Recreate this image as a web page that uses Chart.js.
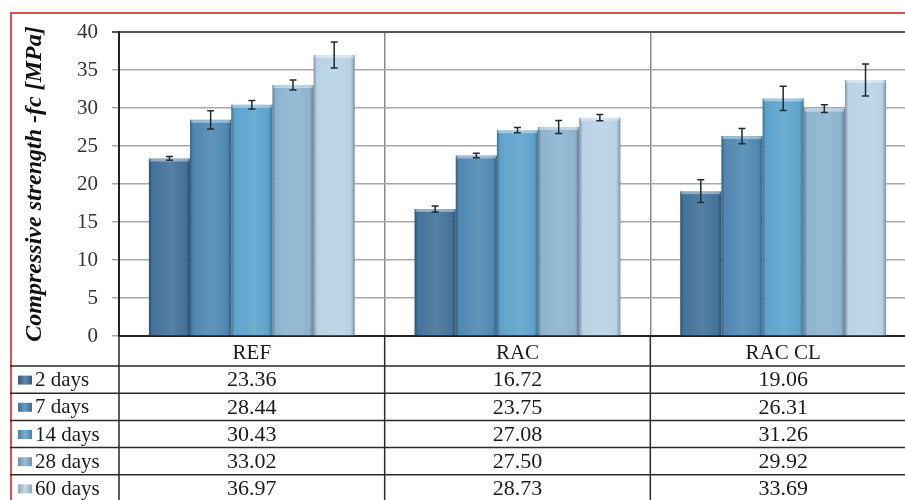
<!DOCTYPE html>
<html>
<head>
<meta charset="utf-8">
<script src="https://cdn.jsdelivr.net/npm/chart.js@4.4.0/dist/chart.umd.min.js"></script>
<style>
  html, body { margin: 0; padding: 0; background: #fff; overflow: hidden; }
  #cadre { position: absolute; left: 10px; top: 12px; width: 920px; height: 520px; border: 2px solid #d9534f; }
  #zone { position: absolute; left: 0; top: 0; width: 916px; height: 500px; }
</style>
</head>
<body>
<div id="cadre"></div>
<div id="zone"><canvas id="grafico" width="916" height="500"></canvas></div>
<script>
// categorias e series
var misturas = ['REF', 'RAC', 'RAC CL'];
var idades = ['2 days', '7 days', '14 days', '28 days', '60 days'];
var d2  = [23.36, 16.72, 19.06];
var d7  = [28.44, 23.75, 26.31];
var d14 = [30.43, 27.08, 31.26];
var d28 = [33.02, 27.50, 29.92];
var d60 = [36.97, 28.73, 33.69];
// barras de erro (estimadas da imagem)
var e2  = [0.25, 0.40, 1.50];
var e7  = [1.20, 0.30, 1.00];
var e14 = [0.55, 0.35, 1.60];
var e28 = [0.65, 0.85, 0.50];
var e60 = [1.70, 0.40, 2.10];
var ticksY = [0, 5, 10, 15, 20, 25, 30, 35, 40];

var series = [d2, d7, d14, d28, d60];
var erros = [e2, e7, e14, e28, e60];
var cores = ['#43729a', '#4f88b2', '#5ea3cc', '#8db3cf', '#b8d2e5'];
var fonte = '"Liberation Serif", "DejaVu Serif", serif';

function clarear(hex, f) {
    var n = parseInt(hex.slice(1), 16);
    var r = (n >> 16) & 255, g = (n >> 8) & 255, b = n & 255;
    if (f > 0) { r += (255 - r) * f; g += (255 - g) * f; b += (255 - b) * f; }
    else { r *= 1 + f; g *= 1 + f; b *= 1 + f; }
    return 'rgb(' + Math.round(r) + ',' + Math.round(g) + ',' + Math.round(b) + ')';
}

function gradienteBarra(context, base) {
    var chart = context.chart;
    var xs = chart.scales.x;
    if (!xs || context.dataIndex === undefined) return base;
    var largCat = xs.getPixelForValue(1) - xs.getPixelForValue(0);
    var slot = largCat * 0.775 / series.length;
    var centro = xs.getPixelForValue(context.dataIndex);
    var esq = centro - slot * series.length / 2 + slot * context.datasetIndex;
    if (!isFinite(esq) || !isFinite(slot) || slot <= 0) return base;
    var g = chart.ctx.createLinearGradient(esq, 0, esq + slot, 0);
    g.addColorStop(0, clarear(base, -0.3));
    g.addColorStop(0.08, base);
    g.addColorStop(0.55, clarear(base, 0.1));
    g.addColorStop(0.9, base);
    g.addColorStop(1, clarear(base, -0.3));
    return g;
}

var pluginErros = {
    id: 'erros',
    afterDatasetsDraw: function(chart) {
        var ctx = chart.ctx;
        var ys = chart.scales.y;
        ctx.save();
        ctx.strokeStyle = '#1f2a33';
        ctx.lineWidth = 1.5;
        chart.data.datasets.forEach(function(ds, di) {
            var meta = chart.getDatasetMeta(di);
            meta.data.forEach(function(barra, i) {
                var v = ds.data[i], e = erros[di][i];
                var yt = ys.getPixelForValue(v + e);
                var yb = ys.getPixelForValue(v - e);
                // tampa clara no topo da barra
                ctx.save();
                ctx.fillStyle = 'rgba(255,255,255,0.4)';
                ctx.fillRect(barra.x - barra.width / 2 + 1, barra.y, barra.width - 2, 3);
                ctx.restore();
                ctx.beginPath();
                ctx.moveTo(barra.x, yt); ctx.lineTo(barra.x, yb);
                ctx.moveTo(barra.x - 3.5, yt); ctx.lineTo(barra.x + 3.5, yt);
                ctx.moveTo(barra.x - 3.5, yb); ctx.lineTo(barra.x + 3.5, yb);
                ctx.stroke();
            });
        });
        ctx.restore();
    }
};

var pluginTabela = {
    id: 'tabela',
    afterDraw: function(chart) {
        var ctx = chart.ctx;
        var xs = chart.scales.x;
        var area = chart.chartArea;
        var topo = area.bottom;
        var cab = 30, alt = 27.2;
        var dir = chart.width;
        ctx.save();
        ctx.strokeStyle = '#2a2a2a';
        ctx.lineWidth = 1.5;
        ctx.beginPath();
        // linhas horizontais
        for (var r = 0; r <= idades.length; r++) {
            var y = topo + cab + r * alt;
            ctx.moveTo(10, y); ctx.lineTo(dir, y);
        }
        // linhas verticais
        ctx.moveTo(area.left, topo); ctx.lineTo(area.left, chart.height);
        for (var c = 0; c < misturas.length; c++) {
            var xb = xs.getPixelForValue(c + 0.5);
            ctx.moveTo(xb, topo); ctx.lineTo(xb, chart.height);
        }
        ctx.stroke();

        ctx.textBaseline = 'middle';
        idades.forEach(function(nome, r) {
            var yc = topo + cab + r * alt + alt / 2 + 1;
            // marcador da legenda
            var g = ctx.createLinearGradient(18, 0, 32, 0);
            g.addColorStop(0, clarear(cores[r], -0.2));
            g.addColorStop(0.5, clarear(cores[r], 0.15));
            g.addColorStop(1, clarear(cores[r], -0.2));
            ctx.fillStyle = g;
            ctx.fillRect(18, yc - 5, 14, 9);
            ctx.fillStyle = '#1a1a1a';
            ctx.font = '21px ' + fonte;
            ctx.textAlign = 'left';
            ctx.fillText(nome, 35, yc);
            ctx.font = '22px ' + fonte;
            ctx.textAlign = 'center';
            series[r].forEach(function(v, c) {
                ctx.fillText(v.toFixed(2), xs.getPixelForValue(c), yc);
            });
        });
        ctx.restore();
    }
};

var conjuntos = series.map(function(s, i) {
    return {
        label: idades[i],
        data: s,
        backgroundColor: function(context) { return gradienteBarra(context, cores[i]); },
        borderWidth: 0
    };
});

new Chart(document.getElementById('grafico').getContext('2d'), {
    type: 'bar',
    data: { labels: misturas, datasets: conjuntos },
    options: {
        responsive: false,
        animation: false,
        layout: { padding: { top: 32, right: 0, bottom: 0, left: 0 } },
        datasets: { bar: { categoryPercentage: 0.775, barPercentage: 1 } },
        plugins: { legend: { display: false }, tooltip: { enabled: false } },
        scales: {
            x: {
                afterFit: function(axis) { axis.height = 164; },
                grid: { offset: true, color: '#8a8a8a', lineWidth: 1.5, drawTicks: false },
                border: { display: true, color: '#222', width: 2 },
                ticks: { padding: 5, color: '#1a1a1a', font: { family: fonte, size: 21 } }
            },
            y: {
                min: 0,
                max: 40,
                afterFit: function(axis) { axis.width = 119; },
                afterBuildTicks: function(axis) { axis.ticks = ticksY.map(function(v) { return { value: v }; }); },
                grid: {
                    color: function(c) { return c.tick && c.tick.value === 40 ? '#555' : '#a8a8a8'; },
                    lineWidth: function(c) { return c.tick && c.tick.value === 40 ? 2 : 1.5; },
                    tickLength: 7
                },
                border: { display: true, color: '#222', width: 2 },
                ticks: { padding: 14, color: '#333', font: { family: fonte, size: 21 } },
                title: {
                    display: true,
                    text: 'Compressive strength -fc [MPa]',
                    color: '#111',
                    padding: { top: 20, bottom: 0 },
                    font: { family: fonte, size: 24, weight: 'bold', style: 'italic' }
                }
            }
        }
    },
    plugins: [pluginErros, pluginTabela]
});
</script>
</body>
</html>
